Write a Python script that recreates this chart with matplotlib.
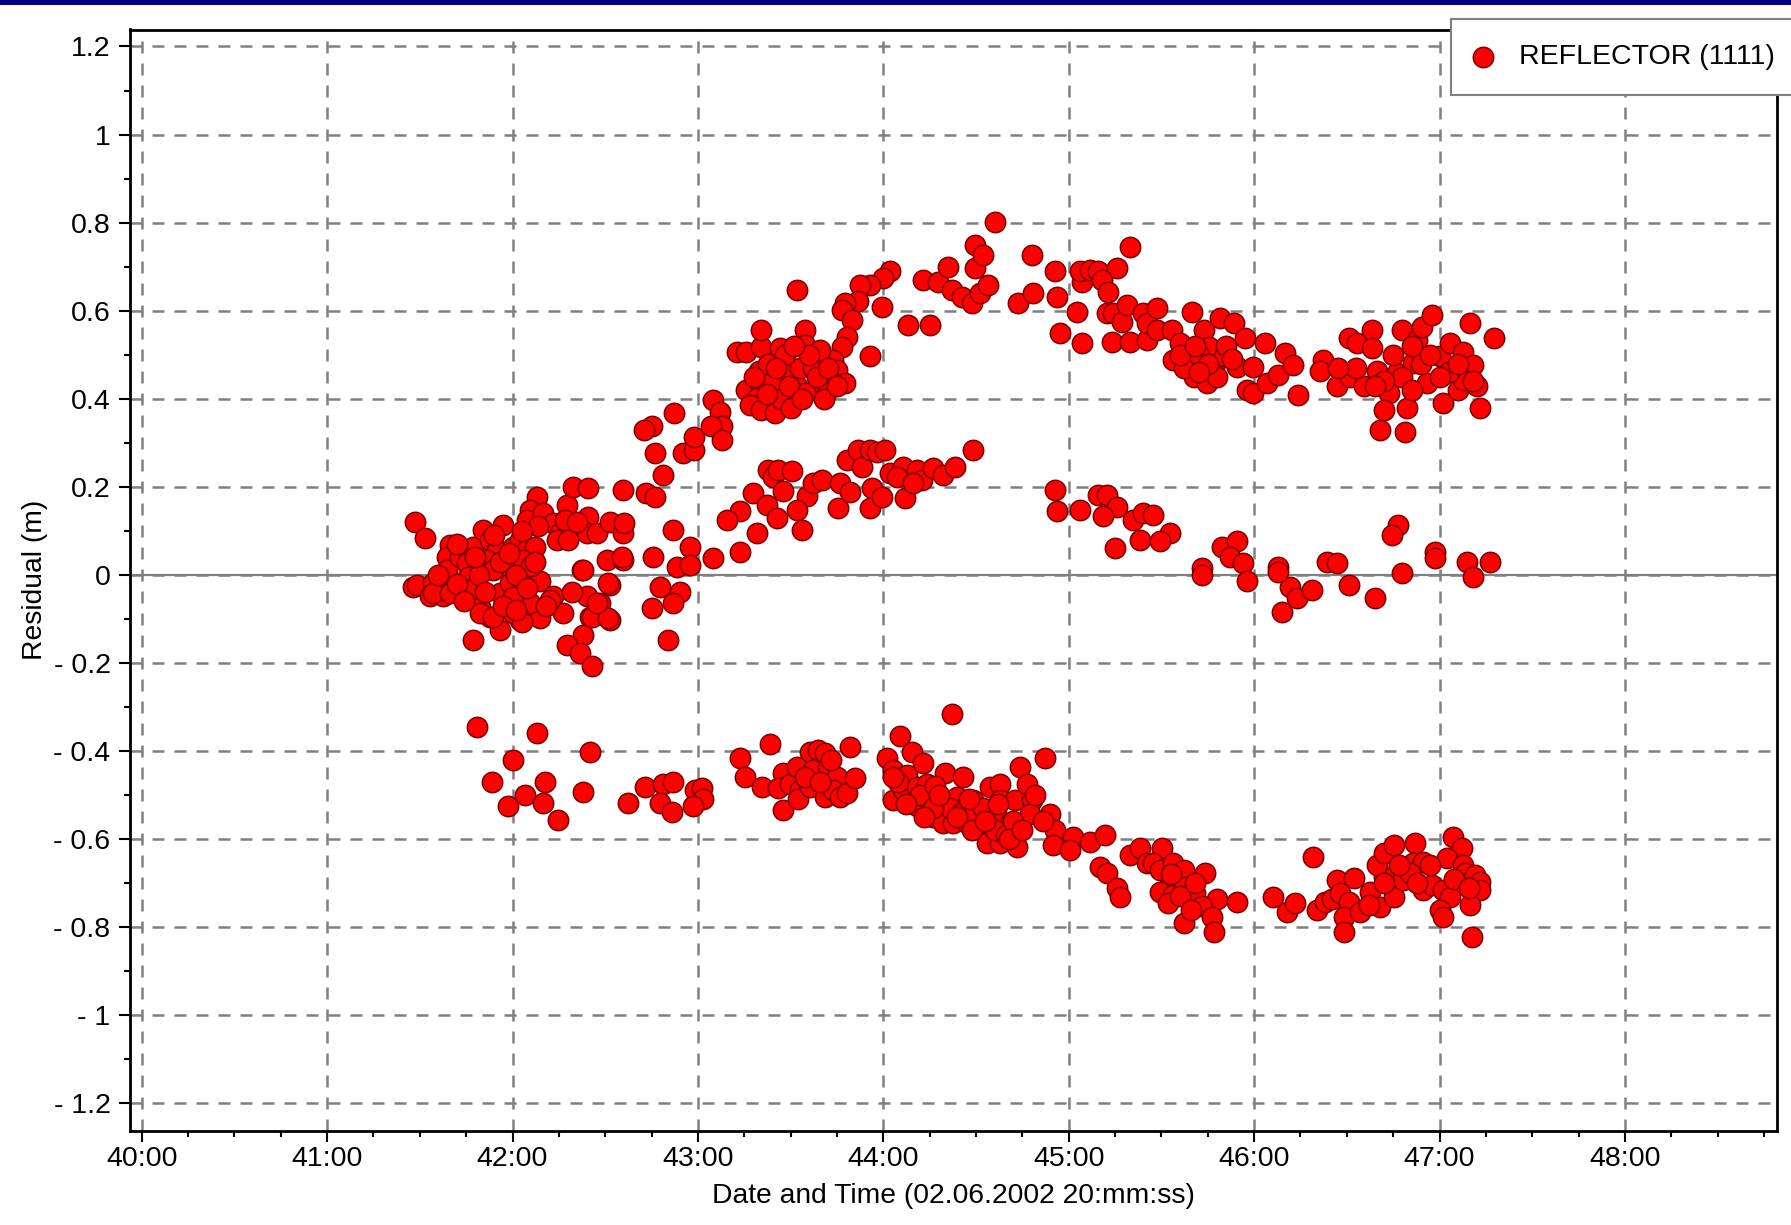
import matplotlib

matplotlib.use("Agg")
import matplotlib.pyplot as plt
from matplotlib.patches import Rectangle
from matplotlib.ticker import FuncFormatter, MultipleLocator

# Residuals (m) of one reflector; time in minutes past 20:00 on 02.06.2002.
start_cluster = [
    (41.474, 0.121), (41.528, 0.083), (41.465, -0.027), (41.483, -0.023), (41.573, -0.019),
    (41.555, -0.049), (41.627, -0.049), (41.672, -0.038), (41.663, 0.068), (41.645, 0.041),
    (41.645, 0.011), (41.717, 0.041), (41.788, 0.064), (41.752, 0.026), (41.761, -0.004),
    (41.761, -0.034), (41.842, 0.102), (41.878, 0.079), (41.914, 0.057), (41.950, 0.113),
    (41.860, 0.034), (41.896, 0.011), (41.824, -0.072), (41.878, -0.095), (41.932, -0.125),
    (41.788, -0.148), (41.932, -0.042), (41.986, -0.019), (42.004, 0.019), (42.004, 0.064),
    (42.040, 0.079), (42.076, 0.057), (42.121, 0.064), (42.058, 0.034), (42.076, -0.004),
    (42.148, -0.015), (42.058, -0.064), (42.040, -0.102), (42.004, -0.087), (42.148, -0.098),
    (42.220, -0.049), (42.274, -0.087), (42.130, 0.178), (42.094, 0.147), (42.076, 0.125),
    (42.166, 0.140), (42.220, 0.117), (42.256, 0.095), (42.292, 0.159), (42.328, 0.200),
    (42.409, 0.197), (42.283, 0.125), (42.373, 0.011), (42.409, 0.132), (42.400, 0.095),
    (42.454, 0.095), (42.526, 0.121), (42.598, 0.095), (42.508, 0.034), (42.598, 0.034),
    (42.526, -0.023), (42.400, -0.049), (42.472, -0.064), (42.418, -0.095), (42.526, -0.102),
    (42.382, -0.136), (42.292, -0.159), (42.364, -0.178), (42.427, -0.208), (42.598, 0.193),
    (42.867, 0.102), (42.759, 0.041), (42.957, 0.064), (43.083, 0.038), (42.885, 0.019),
    (42.957, 0.022), (42.795, -0.027), (42.903, -0.038), (42.750, -0.076), (42.867, -0.064),
    (42.840, -0.148), (41.573, -0.042), (41.663, -0.042), (41.771, -0.034), (41.824, -0.087),
    (41.896, -0.095), (42.049, -0.106), (42.094, -0.065), (42.202, -0.057), (42.427, -0.095),
    (42.517, -0.099), (42.454, -0.065), (42.517, -0.019), (41.700, 0.070), (41.820, 0.000),
    (41.900, 0.090), (42.000, -0.050), (42.100, 0.020), (41.950, -0.070), (42.180, -0.070),
    (41.600, 0.000), (42.140, 0.110), (42.240, 0.080), (42.020, -0.080), (42.600, 0.118),
    (42.590, 0.040), (42.380, 0.010), (42.720, 0.185), (42.770, 0.178),
    (41.700, -0.020), (41.800, 0.040), (41.850, -0.040), (41.930, 0.030), (42.020, 0.000),
    (42.080, -0.030), (42.120, 0.030), (41.980, 0.050), (42.050, 0.100), (41.740, -0.060),
    (42.300, 0.080), (42.350, 0.120), (42.320, -0.040),
]

upper_band = [
    (42.750, 0.337), (42.710, 0.329), (42.770, 0.276), (42.810, 0.227), (42.870, 0.367),
    (42.920, 0.276), (42.980, 0.284), (42.980, 0.314), (43.080, 0.397), (43.120, 0.371),
    (43.130, 0.337), (43.070, 0.337), (43.130, 0.306), (43.210, 0.507), (43.260, 0.507),
    (43.340, 0.518), (43.340, 0.556), (43.330, 0.462), (43.260, 0.420), (43.340, 0.428),
    (43.320, 0.401), (43.280, 0.386), (43.340, 0.374), (43.533, 0.647), (44.036, 0.689),
    (44.000, 0.674), (43.928, 0.658), (43.874, 0.658), (43.865, 0.621), (43.793, 0.617),
    (43.776, 0.602), (43.991, 0.609), (43.829, 0.579), (43.802, 0.541), (43.776, 0.518),
    (43.731, 0.488), (43.749, 0.465), (43.794, 0.435), (43.722, 0.439), (43.659, 0.439),
    (43.704, 0.420), (43.578, 0.556), (43.578, 0.522), (43.659, 0.511), (43.443, 0.515),
    (43.461, 0.481), (43.506, 0.462), (43.533, 0.428), (43.578, 0.413), (43.425, 0.397),
    (43.416, 0.367), (43.928, 0.496), (44.135, 0.568), (44.252, 0.568), (44.216, 0.670),
    (44.297, 0.666), (44.351, 0.700), (44.369, 0.647), (44.423, 0.632), (44.477, 0.617),
    (44.522, 0.640), (44.567, 0.658), (44.495, 0.696), (44.495, 0.749), (44.540, 0.727),
    (44.603, 0.802), (44.729, 0.617), (44.800, 0.727), (44.809, 0.640), (44.926, 0.689),
    (44.935, 0.632), (44.953, 0.549), (45.043, 0.598), (45.070, 0.526), (45.070, 0.666),
    (45.061, 0.689), (45.115, 0.693), (45.160, 0.689), (45.259, 0.696), (45.331, 0.745),
    (45.178, 0.670), (45.214, 0.643), (45.205, 0.594), (45.241, 0.594), (45.286, 0.575),
    (45.313, 0.613), (45.232, 0.530), (45.331, 0.530), (45.421, 0.534), (45.403, 0.594),
    (45.421, 0.571), (43.400, 0.440), (43.450, 0.400), (43.500, 0.380), (43.550, 0.470),
    (43.620, 0.470), (43.680, 0.400), (43.470, 0.500), (43.380, 0.480),
    (43.300, 0.450), (43.370, 0.410), (43.420, 0.470), (43.490, 0.430), (43.560, 0.400),
    (43.640, 0.450), (43.700, 0.470), (43.750, 0.430), (43.600, 0.500), (43.520, 0.520),
    (45.475, 0.605), (45.664, 0.598), (45.475, 0.556), (45.556, 0.556), (45.601, 0.526),
    (45.565, 0.488), (45.655, 0.496), (45.673, 0.450), (45.727, 0.556), (45.754, 0.518),
    (45.817, 0.583), (45.889, 0.571), (45.781, 0.473), (45.745, 0.435), (45.835, 0.496),
    (45.907, 0.473), (45.951, 0.537), (45.996, 0.473), (45.960, 0.420), (45.996, 0.412),
    (46.059, 0.526), (46.068, 0.435), (46.131, 0.454), (46.167, 0.503), (46.212, 0.477),
    (46.239, 0.409), (46.374, 0.488), (46.356, 0.462), (46.446, 0.428), (46.509, 0.537),
    (46.554, 0.526), (46.635, 0.556), (46.635, 0.515), (46.518, 0.450), (46.590, 0.428),
    (46.662, 0.462), (46.725, 0.412), (46.698, 0.375), (46.680, 0.329), (46.814, 0.325),
    (46.823, 0.378), (46.796, 0.556), (46.769, 0.458), (46.877, 0.534), (46.904, 0.564),
    (46.958, 0.590), (46.859, 0.481), (46.931, 0.435), (47.021, 0.390), (47.003, 0.496),
    (47.057, 0.526), (47.129, 0.507), (47.183, 0.477), (47.201, 0.428), (47.219, 0.378),
    (47.165, 0.571), (47.291, 0.537), (47.102, 0.420), (47.129, 0.443), (45.620, 0.470),
    (45.700, 0.500), (45.800, 0.450), (45.850, 0.520), (46.800, 0.450), (46.900, 0.480),
    (47.050, 0.460), (46.700, 0.440), (46.850, 0.420),
    (46.750, 0.500), (46.850, 0.520), (46.950, 0.500), (47.000, 0.450), (47.100, 0.480),
    (47.180, 0.440), (46.650, 0.430), (46.550, 0.470), (46.450, 0.470), (45.600, 0.500),
    (45.680, 0.520), (45.750, 0.480), (45.880, 0.490), (45.700, 0.460),
]

middle_band = [
    (43.299, 0.185), (43.227, 0.144), (43.155, 0.125), (43.317, 0.094), (43.227, 0.053),
    (43.380, 0.238), (43.371, 0.159), (43.407, 0.223), (43.460, 0.190), (43.590, 0.180),
    (43.434, 0.238), (43.506, 0.235), (43.425, 0.129), (43.533, 0.148), (43.560, 0.102),
    (43.623, 0.208), (43.668, 0.216), (43.767, 0.208), (43.758, 0.151), (43.820, 0.189),
    (43.802, 0.261), (43.865, 0.284), (43.883, 0.246), (43.928, 0.284), (43.964, 0.280),
    (44.009, 0.284), (43.937, 0.197), (43.928, 0.151), (43.991, 0.178), (44.036, 0.231),
    (44.108, 0.246), (44.117, 0.174), (44.180, 0.238), (44.207, 0.216), (44.270, 0.242),
    (44.324, 0.227), (44.387, 0.246), (44.486, 0.284), (44.072, 0.223), (44.162, 0.208),
    (44.926, 0.193), (44.935, 0.144), (45.061, 0.148), (45.160, 0.182), (45.205, 0.182),
    (45.259, 0.155), (45.187, 0.133), (45.349, 0.125), (45.385, 0.079), (45.250, 0.060),
    (45.403, 0.140), (45.457, 0.136), (45.547, 0.095), (45.493, 0.076), (45.826, 0.064),
    (45.907, 0.076), (45.871, 0.041), (45.942, 0.026), (46.131, 0.019), (46.392, 0.030),
    (46.446, 0.026), (46.778, 0.113), (46.742, 0.091), (46.976, 0.053), (46.976, 0.038),
    (47.147, 0.030), (47.273, 0.030), (45.718, 0.015), (45.718, 0.000), (45.960, -0.015),
    (46.194, -0.027), (46.230, -0.053), (46.311, -0.034), (46.149, -0.084), (46.509, -0.023),
    (46.653, -0.053), (46.796, 0.004), (47.183, -0.004), (46.131, 0.007),
]

lower_band = [
    (41.806, -0.345), (42.130, -0.360), (42.004, -0.420), (42.418, -0.402), (41.887, -0.470),
    (42.175, -0.470), (42.067, -0.500), (41.977, -0.526), (42.166, -0.519), (42.247, -0.557),
    (42.382, -0.492), (42.625, -0.519), (42.714, -0.481), (42.813, -0.474), (42.867, -0.470),
    (42.795, -0.519), (42.858, -0.538), (42.984, -0.489), (43.020, -0.485), (43.029, -0.508),
    (42.975, -0.526), (43.227, -0.417), (43.254, -0.458), (43.344, -0.481), (43.389, -0.383),
    (43.461, -0.451), (43.434, -0.485), (43.461, -0.534), (43.497, -0.474), (43.533, -0.436),
    (43.551, -0.489), (43.542, -0.508), (43.605, -0.402), (43.623, -0.443), (43.605, -0.481),
    (43.650, -0.398), (43.686, -0.405), (43.704, -0.436), (43.686, -0.504), (43.749, -0.458),
    (43.731, -0.489), (43.767, -0.504), (43.803, -0.496), (43.820, -0.390), (43.847, -0.462),
    (44.018, -0.417), (44.054, -0.443), (44.090, -0.367), (44.153, -0.402), (44.054, -0.511),
    (44.108, -0.489), (44.126, -0.455), (44.216, -0.428), (44.180, -0.481), (44.234, -0.474),
    (44.180, -0.526), (44.252, -0.511), (44.270, -0.549), (44.324, -0.526), (44.333, -0.451),
    (44.369, -0.315), (44.324, -0.564), (44.378, -0.564), (44.432, -0.458), (44.396, -0.504),
    (44.450, -0.564), (44.486, -0.511), (44.522, -0.564), (44.576, -0.481), (44.630, -0.474),
    (44.630, -0.511), (44.612, -0.549), (44.558, -0.610), (44.630, -0.610), (44.684, -0.564),
    (44.711, -0.511), (44.738, -0.436), (44.774, -0.474), (44.800, -0.511), (44.791, -0.542),
    (44.719, -0.617), (44.872, -0.417), (44.899, -0.542), (44.926, -0.579), (44.917, -0.614),
    (45.025, -0.595), (45.007, -0.625), (45.115, -0.606), (45.196, -0.591), (45.169, -0.663),
    (45.205, -0.678), (45.259, -0.712), (45.277, -0.731), (45.331, -0.636), (45.385, -0.621),
    (45.421, -0.655), (43.580, -0.460), (43.660, -0.470), (43.720, -0.420), (44.080, -0.470),
    (44.200, -0.500), (44.280, -0.480), (44.360, -0.530), (44.420, -0.540), (44.480, -0.550),
    (44.540, -0.530), (44.600, -0.580), (44.660, -0.590), (44.700, -0.560), (44.270, -0.530),
    (44.460, -0.510),
    (44.050, -0.460), (44.120, -0.520), (44.220, -0.550), (44.300, -0.500), (44.400, -0.550),
    (44.480, -0.580), (44.550, -0.560), (44.620, -0.520), (44.680, -0.600), (44.750, -0.580),
    (44.820, -0.500), (44.860, -0.560),
    (45.502, -0.621), (45.457, -0.655), (45.493, -0.670), (45.565, -0.655), (45.619, -0.670),
    (45.547, -0.701), (45.493, -0.720), (45.565, -0.727), (45.619, -0.708), (45.682, -0.723),
    (45.736, -0.678), (45.799, -0.735), (45.718, -0.753), (45.772, -0.776), (45.781, -0.810),
    (45.619, -0.791), (45.538, -0.746), (45.907, -0.742), (46.104, -0.731), (46.176, -0.765),
    (46.221, -0.746), (46.320, -0.640), (46.338, -0.761), (46.383, -0.742), (46.419, -0.735),
    (46.446, -0.693), (46.536, -0.689), (46.464, -0.723), (46.509, -0.742), (46.482, -0.776),
    (46.482, -0.810), (46.572, -0.765), (46.626, -0.720), (46.680, -0.754), (46.698, -0.686),
    (46.662, -0.659), (46.698, -0.632), (46.752, -0.613), (46.868, -0.610), (46.859, -0.655),
    (46.913, -0.651), (46.752, -0.731), (46.805, -0.693), (46.841, -0.678), (46.913, -0.716),
    (46.958, -0.704), (47.021, -0.716), (47.057, -0.731), (47.003, -0.761), (47.021, -0.776),
    (47.075, -0.595), (47.120, -0.621), (47.039, -0.644), (47.129, -0.659), (47.138, -0.678),
    (47.192, -0.682), (47.219, -0.697), (47.219, -0.716), (47.165, -0.750), (47.174, -0.822),
    (46.700, -0.700), (46.780, -0.660), (46.880, -0.700), (46.950, -0.660), (47.080, -0.690),
    (46.620, -0.750), (47.160, -0.710), (45.550, -0.680), (45.600, -0.730), (45.680, -0.700),
    (45.660, -0.760),
]

series_label = "REFLECTOR (1111)"
x_label = "Date and Time (02.06.2002 20:mm:ss)"
y_label = "Residual (m)"

plt.rcParams["font.family"] = ["Liberation Sans", "DejaVu Sans"]

W, H = 1791, 1225
fig = plt.figure(figsize=(W / 100, H / 100), dpi=100)
fig.add_artist(Rectangle((0, 1 - 5 / H), 1, 5 / H, transform=fig.transFigure,
                         facecolor="#000080", edgecolor="none"))

ax = fig.add_axes([130 / W, 1 - 1131 / H, (1777 - 130) / W, (1131 - 29.5) / H])

points = start_cluster + upper_band + middle_band + lower_band
t_vals = [p[0] for p in points]
r_vals = [p[1] for p in points]

ax.scatter(t_vals, r_vals, s=215, c="#ff0000", edgecolors="#7a0000",
           linewidths=1.1, zorder=3, label=series_label)
ax.axhline(0, color="#808080", linewidth=1.6, zorder=2)

ax.set_xlim(39.937, 48.82)
ax.set_ylim(-1.263, 1.2386)

ax.xaxis.set_major_locator(MultipleLocator(1))
ax.xaxis.set_minor_locator(MultipleLocator(0.25))
ax.yaxis.set_major_locator(MultipleLocator(0.2))
ax.yaxis.set_minor_locator(MultipleLocator(0.1))
ax.xaxis.set_major_formatter(FuncFormatter(lambda v, _: f"{int(round(v))}:00"))


def residual_fmt(v, _):
    if abs(v) < 1e-9:
        return "0"
    s = f"{abs(v):g}"
    return "- " + s if v < 0 else s


ax.yaxis.set_major_formatter(FuncFormatter(residual_fmt))

ax.grid(True, which="major", color="#808080", linestyle=(0, (4.8, 4.0)),
        linewidth=1.8, zorder=1)
ax.set_axisbelow(True)

for sp in ax.spines.values():
    sp.set_linewidth(2.0)
    sp.set_color("black")

ax.tick_params(which="major", direction="out", length=8, width=1.5,
               labelsize=20.5, color="black")
ax.tick_params(which="minor", direction="out", length=4.5, width=1.5, color="black")
ax.tick_params(axis="x", which="major", pad=3)
ax.tick_params(axis="y", which="major", pad=6)

ax.set_xlabel(x_label, fontsize=20.3, labelpad=8)
ax.set_ylabel(y_label, fontsize=20.3, labelpad=4)

leg = ax.legend(loc="upper left", bbox_to_anchor=(1451 / W, 1 - 19 / H),
                bbox_transform=fig.transFigure, frameon=True, fancybox=False,
                edgecolor="#808080", framealpha=1, borderpad=0.88,
                handlelength=0.5, handletextpad=1.0, fontsize=20.5,
                borderaxespad=0)
leg.get_frame().set_linewidth(1.5)

fig.savefig("out.png", dpi=100)
